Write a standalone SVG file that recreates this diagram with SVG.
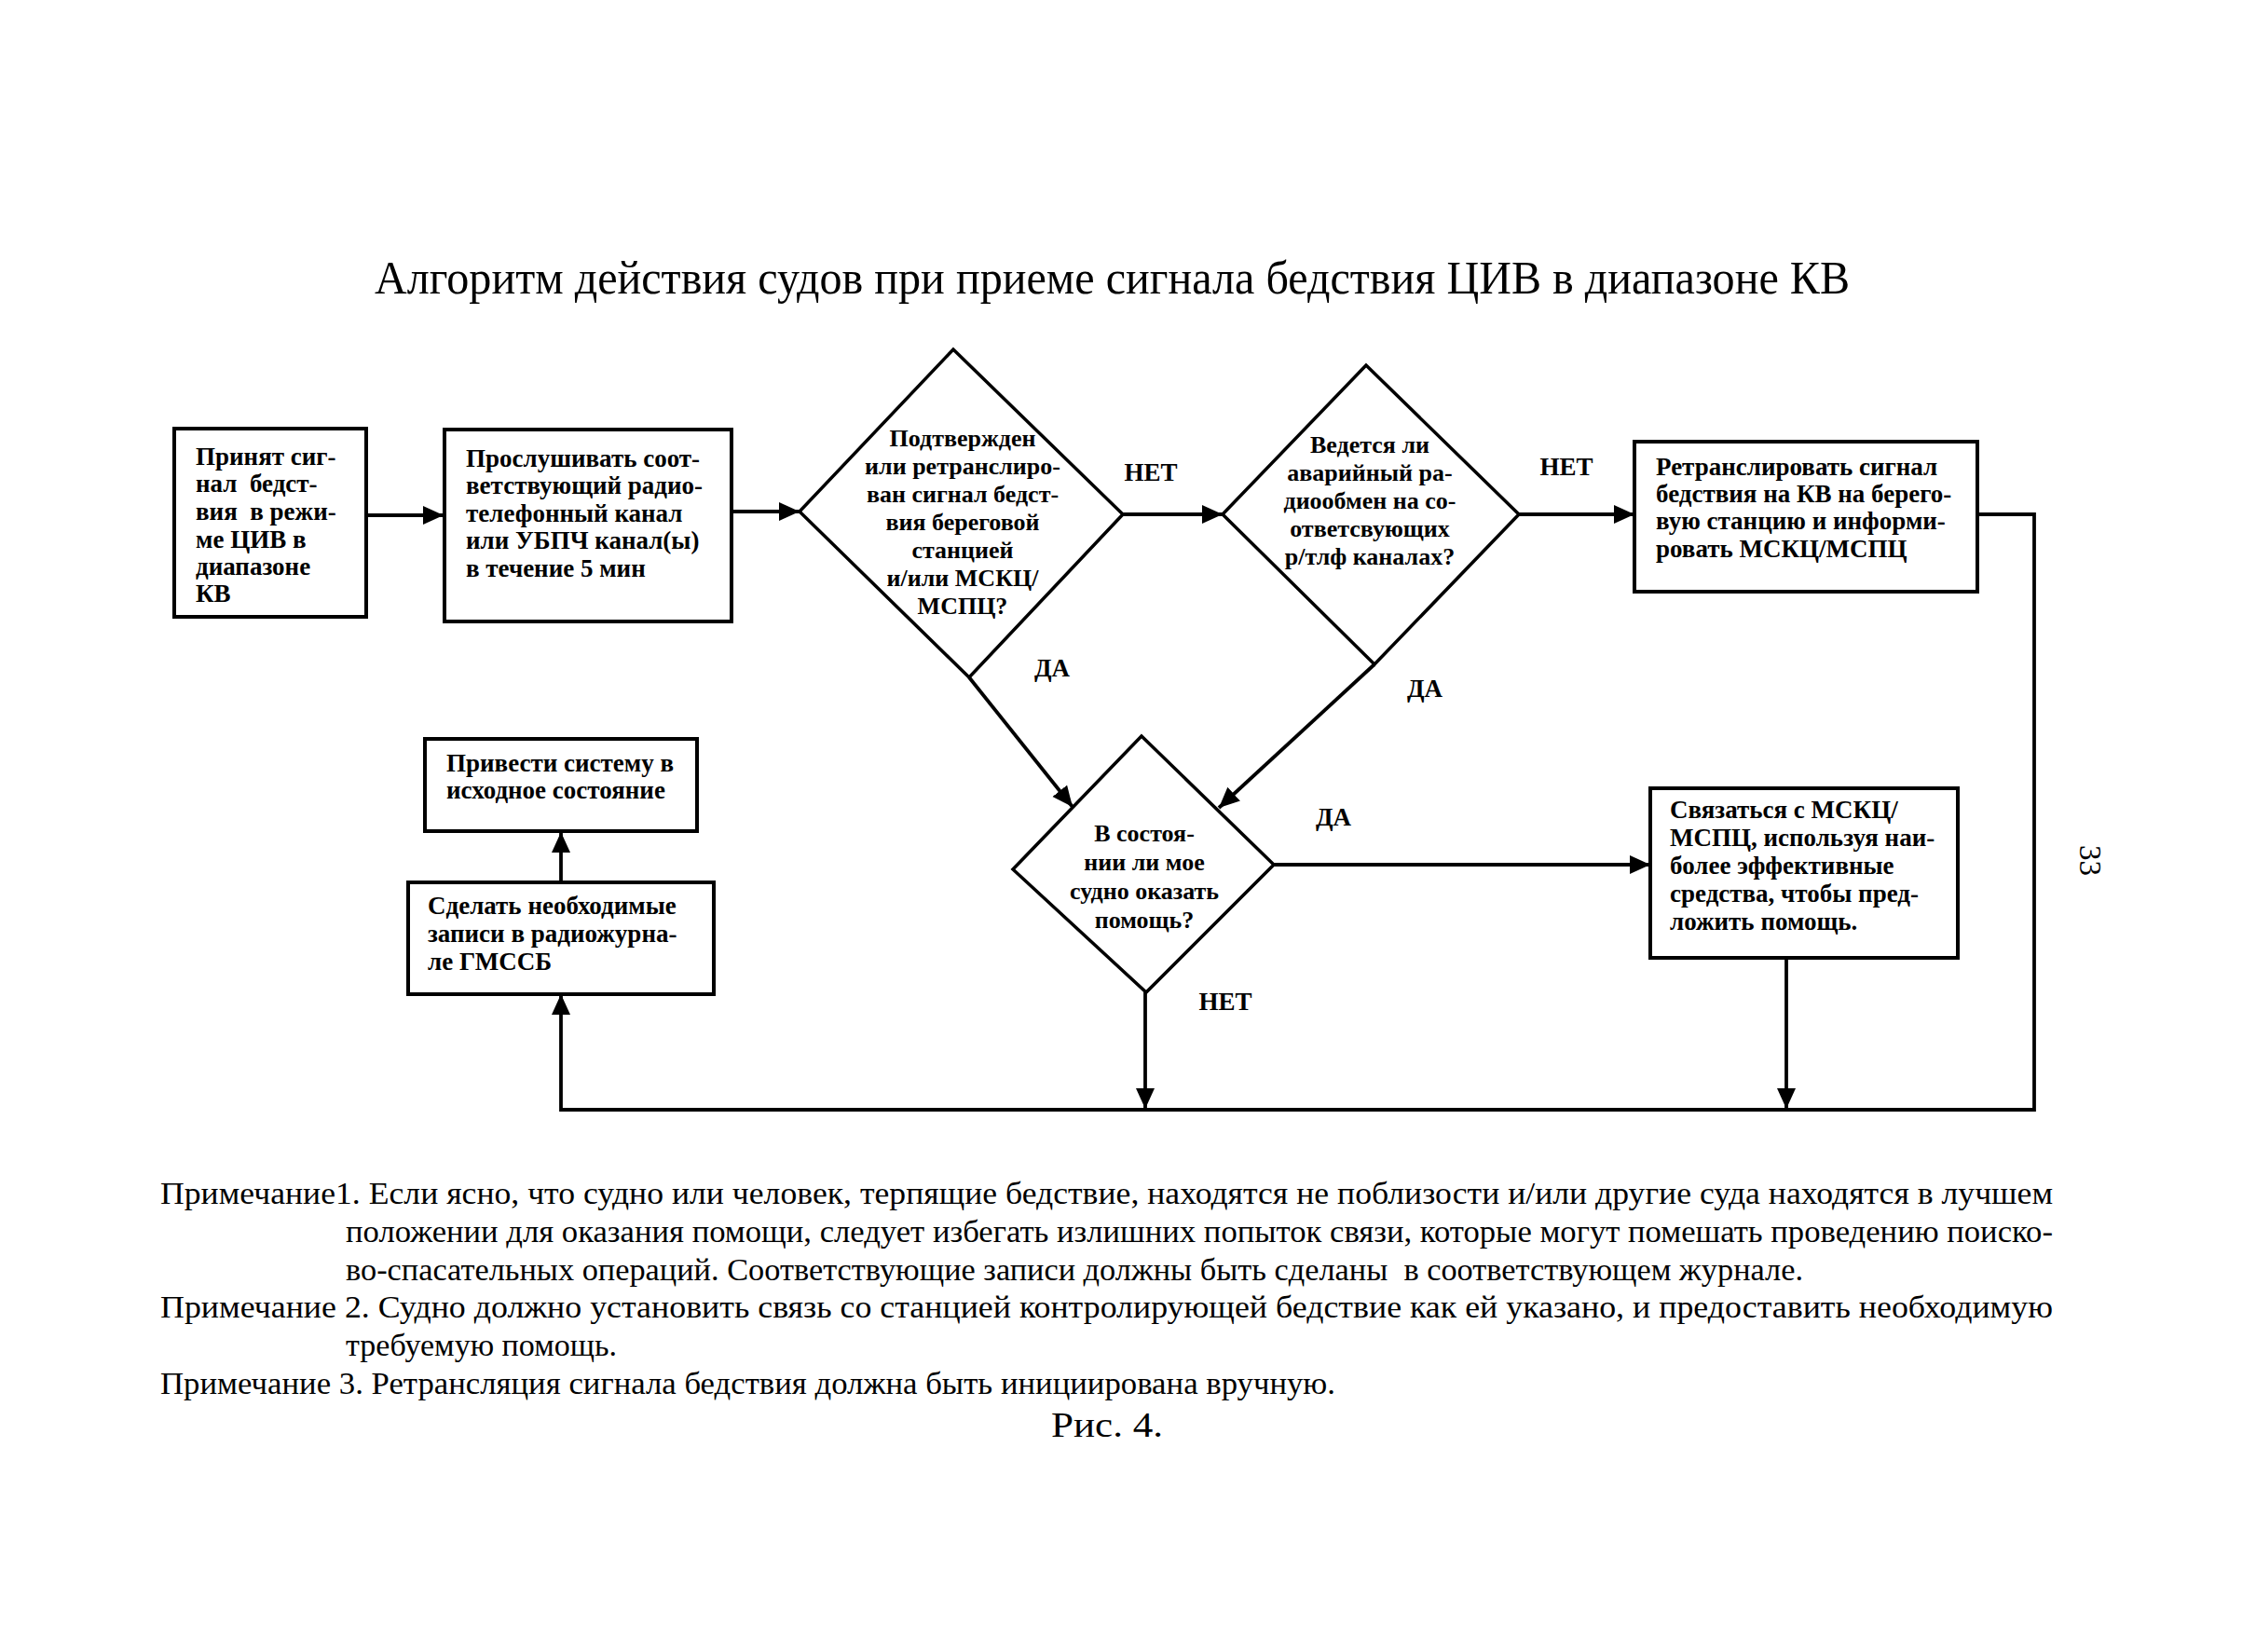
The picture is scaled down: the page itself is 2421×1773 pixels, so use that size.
<svg xmlns="http://www.w3.org/2000/svg" width="2421" height="1773" viewBox="0 0 2421 1773">
<defs>
<marker id="ah" markerUnits="userSpaceOnUse" markerWidth="24" markerHeight="22" refX="22" refY="10" orient="auto">
<path d="M0,0 L22,10 L0,20 z" fill="#000"/>
</marker>
<style>
.box{fill:#fff;stroke:#000;stroke-width:4}
.dia{fill:#fff;stroke:#000;stroke-width:3.5}
.con{fill:none;stroke:#000;stroke-width:3.8;marker-end:url(#ah)}
.t{font-family:"Liberation Serif","Times New Roman",serif;font-weight:bold;font-size:27px;fill:#000}
.d{font-family:"Liberation Serif","Times New Roman",serif;font-weight:bold;font-size:26px;fill:#000;text-anchor:middle}
.lbl{font-family:"Liberation Serif","Times New Roman",serif;font-weight:bold;font-size:27px;fill:#000;text-anchor:middle}
.n{font-family:"Liberation Serif","Times New Roman",serif;font-size:34px;fill:#000}
</style>
</defs>
<rect width="2421" height="1773" fill="#fff"/>
<text x="402" y="315" font-family="Liberation Serif, Times New Roman, serif" font-size="51" textLength="1583" lengthAdjust="spacingAndGlyphs">Алгоритм действия судов при приеме сигнала бедствия ЦИВ в диапазоне КВ</text>

<g id="connectors">
<path class="con" d="M393,553 L476,553"/>
<path class="con" d="M785,549 L858,549"/>
<path class="con" d="M1205,552 L1312,552"/>
<path class="con" d="M1630,552 L1754,552"/>
<path class="con" d="M2122,552 L2183,552 L2183,1191 L602,1191 L602,1067"/>
<path class="con" d="M1040,727 L1151,866"/>
<path class="con" d="M1475,713 L1308,867"/>
<path class="con" d="M1367,928 L1771,928"/>
<path class="con" d="M1229,1065 L1229,1190"/>
<path class="con" d="M1917,1028 L1917,1190"/>
<path class="con" d="M602,947 L602,893"/>
<text class="lbl" x="1235" y="516">НЕТ</text>
<text class="lbl" x="1681" y="510">НЕТ</text>
<text class="lbl" x="1129" y="726">ДА</text>
<text class="lbl" x="1529" y="748">ДА</text>
<text class="lbl" x="1431" y="886">ДА</text>
<text class="lbl" x="1315" y="1084">НЕТ</text>
</g>

<g id="n1">
<rect class="box" x="187" y="460" width="206" height="202"/>
<text class="t" x="210" y="499">Принят сиг-</text>
<text class="t" x="210" y="528" xml:space="preserve">нал  бедст-</text>
<text class="t" x="210" y="558" xml:space="preserve">вия  в режи-</text>
<text class="t" x="210" y="588">ме ЦИВ в</text>
<text class="t" x="210" y="617">диапазоне</text>
<text class="t" x="210" y="646">КВ</text>
</g>

<g id="n2">
<rect class="box" x="477" y="461" width="308" height="206"/>
<text class="t" x="500" y="501">Прослушивать соот-</text>
<text class="t" x="500" y="530">ветствующий радио-</text>
<text class="t" x="500" y="560">телефонный канал</text>
<text class="t" x="500" y="589">или УБПЧ канал(ы)</text>
<text class="t" x="500" y="619">в течение 5 мин</text>
</g>

<g id="n3">
<polygon class="dia" points="1023,375 1205,552 1040,727 858,549"/>
<text class="d" x="1033" y="479">Подтвержден</text>
<text class="d" x="1033" y="509">или ретранслиро-</text>
<text class="d" x="1033" y="539">ван сигнал бедст-</text>
<text class="d" x="1033" y="569">вия береговой</text>
<text class="d" x="1033" y="599">станцией</text>
<text class="d" x="1033" y="629">и/или МСКЦ/</text>
<text class="d" x="1033" y="659">МСПЦ?</text>
</g>

<g id="n4">
<polygon class="dia" points="1466,392 1630,552 1475,713 1312,552"/>
<text class="d" x="1470" y="486">Ведется ли</text>
<text class="d" x="1470" y="516">аварийный ра-</text>
<text class="d" x="1470" y="546">диообмен на со-</text>
<text class="d" x="1470" y="576">ответсвующих</text>
<text class="d" x="1470" y="606">р/тлф каналах?</text>
</g>

<g id="n5">
<rect class="box" x="1754" y="474" width="368" height="161"/>
<text class="t" x="1777" y="510">Ретранслировать сигнал</text>
<text class="t" x="1777" y="539">бедствия на КВ на берего-</text>
<text class="t" x="1777" y="568">вую станцию и информи-</text>
<text class="t" x="1777" y="598">ровать МСКЦ/МСПЦ</text>
</g>

<g id="n6">
<polygon class="dia" points="1225,790 1367,928 1230,1065 1087,933"/>
<text class="d" x="1228" y="903">В состоя-</text>
<text class="d" x="1228" y="934">нии ли мое</text>
<text class="d" x="1228" y="965">судно оказать</text>
<text class="d" x="1228" y="996">помощь?</text>
</g>

<g id="n7">
<rect class="box" x="1771" y="846" width="330" height="182"/>
<text class="t" x="1792" y="878">Связаться с МСКЦ/</text>
<text class="t" x="1792" y="908">МСПЦ, используя наи-</text>
<text class="t" x="1792" y="938">более эффективные</text>
<text class="t" x="1792" y="968">средства, чтобы пред-</text>
<text class="t" x="1792" y="998">ложить помощь.</text>
</g>

<g id="n8">
<rect class="box" x="456" y="793" width="292" height="99"/>
<text class="t" x="479" y="828">Привести систему в</text>
<text class="t" x="479" y="857">исходное состояние</text>
</g>

<g id="n9">
<rect class="box" x="438" y="947" width="328" height="120"/>
<text class="t" x="459" y="981">Сделать необходимые</text>
<text class="t" x="459" y="1011">записи в радиожурна-</text>
<text class="t" x="459" y="1041">ле ГМССБ</text>
</g>

<text x="2232" y="907" transform="rotate(90 2232 907)" font-family="Liberation Serif, Times New Roman, serif" font-size="33">33</text>

<g id="notes">
<text class="n" x="172" y="1292" textLength="2031" lengthAdjust="spacingAndGlyphs">Примечание1. Если ясно, что судно или человек, терпящие бедствие, находятся не поблизости и/или другие суда находятся в лучшем</text>
<text class="n" x="371" y="1333" textLength="1832" lengthAdjust="spacingAndGlyphs">положении для оказания помощи, следует избегать излишних попыток связи, которые могут помешать проведению поиско-</text>
<text class="n" x="371" y="1374" textLength="1564" lengthAdjust="spacingAndGlyphs" xml:space="preserve">во-спасательных операций. Соответствующие записи должны быть сделаны  в соответствующем журнале.</text>
<text class="n" x="172" y="1414" textLength="2031" lengthAdjust="spacingAndGlyphs">Примечание 2. Судно должно установить связь со станцией контролирующей бедствие как ей указано, и предоставить необходимую</text>
<text class="n" x="371" y="1455" textLength="291" lengthAdjust="spacingAndGlyphs">требуемую помощь.</text>
<text class="n" x="172" y="1496" textLength="1261" lengthAdjust="spacingAndGlyphs">Примечание 3. Ретрансляция сигнала бедствия должна быть инициирована вручную.</text>
<text x="1128" y="1542" font-family="Liberation Serif, Times New Roman, serif" font-size="38" textLength="120" lengthAdjust="spacingAndGlyphs">Рис. 4.</text>
</g>
</svg>
